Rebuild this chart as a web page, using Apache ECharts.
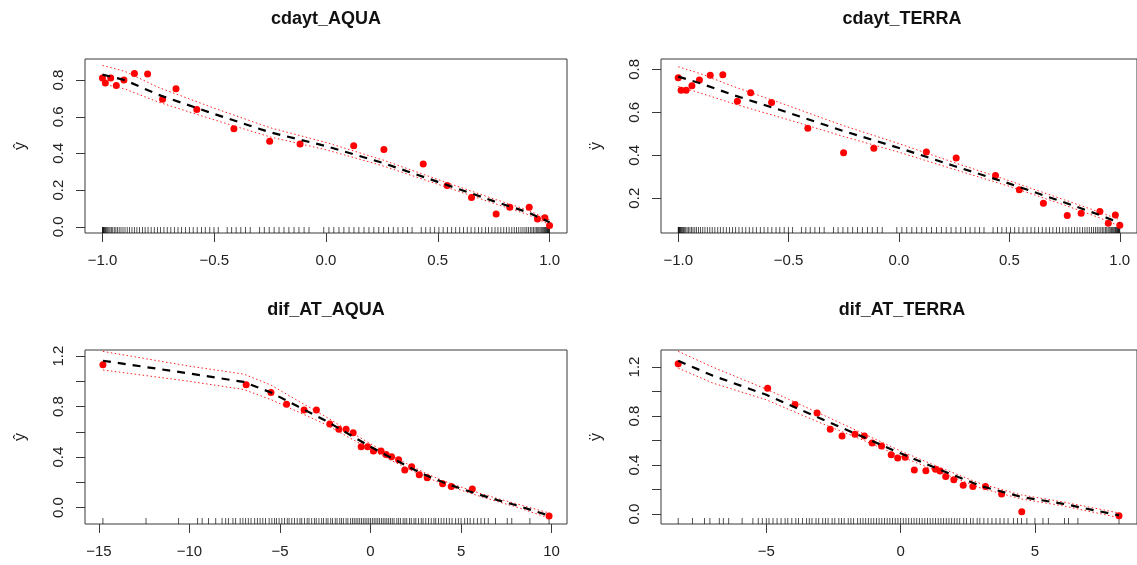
<!DOCTYPE html>
<html><head><meta charset="utf-8">
<script src="https://cdn.jsdelivr.net/npm/echarts@6/dist/echarts.min.js"></script>
<style>html,body{margin:0;padding:0;background:#fff}#c{width:1137px;height:565px}</style>
</head><body><div id="c"></div>
<script>
// ---------- DATA ----------
const panelTitles = ['cdayt_AQUA', 'cdayt_TERRA', 'dif_AT_AQUA', 'dif_AT_TERRA'];
const yAxisNames = ['ŷ', 'ÿ', 'ŷ', 'ÿ'];

// red points (partial residual means)
const ptsCdaytAqua = [[-1.0,0.811],[-0.987,0.784],[-0.963,0.811],[-0.938,0.771],[-0.904,0.80],[-0.857,0.836],[-0.798,0.833],[-0.731,0.696],[-0.671,0.753],[-0.578,0.64],[-0.412,0.535],[-0.252,0.467],[-0.116,0.451],[0.124,0.442],[0.259,0.422],[0.435,0.342],[0.542,0.225],[0.651,0.16],[0.761,0.069],[0.822,0.107],[0.909,0.107],[0.946,0.042],[0.979,0.049],[1.0,0.007]];
const ptsCdaytTerra = [[-1.0,0.761],[-0.987,0.702],[-0.964,0.703],[-0.938,0.724],[-0.904,0.75],[-0.855,0.772],[-0.798,0.775],[-0.732,0.651],[-0.672,0.691],[-0.577,0.646],[-0.413,0.526],[-0.251,0.411],[-0.114,0.432],[0.124,0.415],[0.259,0.387],[0.437,0.306],[0.545,0.239],[0.654,0.177],[0.762,0.119],[0.825,0.130],[0.910,0.138],[0.948,0.083],[0.980,0.122],[1.0,0.074]];
const ptsDifAqua = [[-14.78,1.131],[-6.87,0.972],[-5.50,0.911],[-4.64,0.819],[-3.67,0.773],[-2.99,0.773],[-2.25,0.662],[-1.75,0.620],[-1.35,0.620],[-0.96,0.593],[-0.52,0.482],[-0.16,0.482],[0.16,0.448],[0.58,0.448],[0.86,0.421],[1.16,0.403],[1.55,0.379],[1.89,0.297],[2.27,0.323],[2.69,0.260],[3.13,0.236],[3.98,0.188],[4.46,0.167],[5.62,0.148],[9.86,-0.066]];
const ptsDifTerra = [[-8.28,1.227],[-4.95,1.027],[-3.93,0.893],[-3.11,0.825],[-2.62,0.691],[-2.18,0.637],[-1.70,0.650],[-1.35,0.637],[-1.06,0.579],[-0.71,0.555],[-0.35,0.484],[-0.11,0.456],[0.17,0.464],[0.51,0.358],[0.94,0.352],[1.30,0.366],[1.47,0.350],[1.68,0.306],[1.98,0.279],[2.33,0.235],[2.69,0.224],[3.16,0.224],[3.76,0.164],[4.51,0.019],[8.13,-0.014]];

// fitted curves and confidence bands
const fitXCdayt = [-1, -0.9, -0.75, -0.5, -0.25, 0, 0.25, 0.5, 0.75, 0.9, 1];
const fitCdaytAqua   = [0.83, 0.80, 0.72, 0.615, 0.515, 0.44, 0.35, 0.245, 0.14, 0.08, 0.025];
const upperCdaytAqua = [0.88, 0.848, 0.76, 0.647, 0.54, 0.46, 0.366, 0.258, 0.152, 0.092, 0.038];
const lowerCdaytAqua = [0.78, 0.752, 0.68, 0.583, 0.49, 0.42, 0.334, 0.232, 0.128, 0.068, 0.012];
const fitCdaytTerra   = [0.766, 0.735, 0.68, 0.598, 0.512, 0.434, 0.35, 0.268, 0.18, 0.125, 0.085];
const upperCdaytTerra = [0.812, 0.78, 0.72, 0.63, 0.537, 0.454, 0.366, 0.281, 0.192, 0.138, 0.10];
const lowerCdaytTerra = [0.72, 0.69, 0.64, 0.565, 0.487, 0.414, 0.334, 0.255, 0.168, 0.112, 0.07];

const fitXDifAqua  = [-14.78, -10, -7, -5.5, -4, -2.5, -1, 0, 1, 2, 3, 4, 5, 6, 7, 8, 9.86];
const fitDifAqua   = [1.163, 1.062, 0.995, 0.911, 0.80, 0.69, 0.565, 0.482, 0.405, 0.33, 0.26, 0.20, 0.15, 0.103, 0.06, 0.02, -0.063];
const upperDifAqua = [1.237, 1.12, 1.057, 0.97, 0.845, 0.722, 0.59, 0.505, 0.425, 0.348, 0.275, 0.213, 0.162, 0.115, 0.072, 0.033, -0.043];
const lowerDifAqua = [1.09, 1.0, 0.935, 0.855, 0.758, 0.66, 0.54, 0.46, 0.385, 0.312, 0.245, 0.187, 0.138, 0.091, 0.048, 0.007, -0.083];

const fitXDifTerra  = [-8.28, -7, -5, -3, -1.5, 0, 1.5, 3, 4.5, 6, 8.13];
const fitDifTerra   = [1.251, 1.13, 0.973, 0.781, 0.639, 0.495, 0.358, 0.227, 0.139, 0.085, -0.011];
const upperDifTerra = [1.328, 1.2, 1.019, 0.82, 0.668, 0.514, 0.376, 0.245, 0.155, 0.10, 0.008];
const lowerDifTerra = [1.191, 1.07, 0.932, 0.745, 0.612, 0.47, 0.338, 0.21, 0.122, 0.068, -0.03];

// rug (observed x values)
const rugCdayt = [-1.0,-0.999,-0.997,-0.995,-0.993,-0.99,-0.987,-0.984,-0.98,-0.976,-0.971,-0.966,-0.96,-0.954,-0.947,-0.94,-0.933,-0.925,-0.917,-0.908,-0.899,-0.889,-0.879,-0.868,-0.857,-0.846,-0.834,-0.821,-0.809,-0.796,-0.782,-0.768,-0.754,-0.74,-0.725,-0.71,-0.694,-0.678,-0.662,-0.646,-0.628,-0.611,-0.594,-0.576,-0.557,-0.54,-0.52,-0.501,-0.482,-0.442,-0.422,-0.402,-0.381,-0.36,-0.339,-0.297,-0.276,-0.254,-0.232,-0.21,-0.188,-0.166,-0.143,-0.121,-0.098,-0.076,-0.01,0.013,0.035,0.058,0.08,0.103,0.125,0.147,0.17,0.192,0.214,0.236,0.258,0.28,0.301,0.322,0.344,0.365,0.385,0.426,0.446,0.466,0.486,0.505,0.524,0.543,0.562,0.58,0.598,0.615,0.632,0.649,0.666,0.682,0.697,0.713,0.727,0.742,0.756,0.769,0.782,0.795,0.807,0.819,0.831,0.842,0.852,0.862,0.872,0.881,0.89,0.898,0.906,0.914,0.921,0.928,0.935,0.941,0.947,0.952,0.957,0.962,0.966,0.97,0.974,0.978,0.981,0.984,0.987,0.99,0.992,0.994,0.996,0.998,1.0];
const rugDifAqua = [-14.78,-12.4,-10.6,-9.55,-9.3,-8.95,-8.55,-8.2,-8.0,-7.85,-7.6,-7.45,-7.2,-7.05,-6.9,-6.75,-6.6,-6.4,-6.25,-6.1,-5.95,-5.8,-5.6,-5.45,-5.3,-5.2,-5.05,-4.9,-4.75,-4.6,-4.5,-4.35,-4.2,-4.05,-3.9,-3.8,-3.65,-3.5,-3.4,-3.25,-3.1,-3.0,-2.85,-2.7,-2.6,-2.45,-2.35,-2.2,-2.1,-1.95,-1.85,-1.7,-1.6,-1.5,-1.35,-1.25,-1.1,-1.0,-0.9,-0.8,-0.7,-0.6,-0.5,-0.4,-0.3,-0.2,-0.1,0.0,0.1,0.2,0.3,0.4,0.5,0.6,0.7,0.8,0.9,1.0,1.1,1.2,1.3,1.45,1.55,1.65,1.8,1.9,2.0,2.15,2.25,2.4,2.5,2.65,2.8,2.9,3.05,3.2,3.35,3.5,3.6,3.75,3.9,4.05,4.2,4.35,4.5,4.7,4.85,5.0,5.2,5.35,5.5,5.7,5.9,6.1,6.3,6.5,6.9,7.55,7.8,8.8,9.86];
const rugDifTerra = [-8.28,-7.75,-7.3,-7.1,-6.75,-6.6,-6.4,-5.9,-5.5,-5.3,-5.15,-5.0,-4.9,-4.75,-4.6,-4.45,-4.3,-4.2,-4.05,-3.9,-3.8,-3.65,-3.5,-3.4,-3.3,-3.15,-3.05,-2.9,-2.8,-2.7,-2.55,-2.45,-2.3,-2.2,-2.1,-1.95,-1.85,-1.75,-1.6,-1.5,-1.4,-1.3,-1.2,-1.1,-1.0,-0.9,-0.8,-0.7,-0.6,-0.5,-0.4,-0.3,-0.2,-0.1,0.0,0.1,0.2,0.3,0.4,0.5,0.6,0.7,0.8,0.9,1.0,1.1,1.2,1.3,1.4,1.5,1.6,1.7,1.8,1.9,2.0,2.1,2.2,2.35,2.45,2.6,2.7,2.85,2.95,3.1,3.25,3.4,3.55,3.7,3.85,4.0,4.2,4.35,4.5,4.7,5.0,5.3,5.5,6.1,6.25,6.6,8.13];

// tick positions and labels
const xTicksCdayt = [-1, -0.5, 0, 0.5, 1];
const xTicksDifAqua = [-15, -10, -5, 0, 5, 10];
const xTicksDifTerra = [-5, 0, 5];
const yTicksCdaytAqua = [0, 0.2, 0.4, 0.6, 0.8];
const yTicksCdaytTerra = [0.2, 0.4, 0.6, 0.8];
const yTicksDif = [0, 0.2, 0.4, 0.6, 0.8, 1.0, 1.2];
const yLabelsDif = [0, 0.4, 0.8, 1.2];

// ---------- LAYOUT ----------
const panels = [
  {left: 85,  top: 59,  xr: [-1.078, 1.078], yr: [-0.034, 0.915], xt: xTicksCdayt, xd: 1, yt: yTicksCdaytAqua, yl: yTicksCdaytAqua, pts: ptsCdaytAqua, fx: fitXCdayt, fit: fitCdaytAqua, up: upperCdaytAqua, lo: lowerCdaytAqua, rug: rugCdayt},
  {left: 661, top: 59,  xr: [-1.078, 1.078], yr: [0.038, 0.848],  xt: xTicksCdayt, xd: 1, yt: yTicksCdaytTerra, yl: yTicksCdaytTerra, pts: ptsCdaytTerra, fx: fitXCdayt, fit: fitCdaytTerra, up: upperCdaytTerra, lo: lowerCdaytTerra, rug: rugCdayt},
  {left: 85,  top: 350, xr: [-15.77, 10.85],  yr: [-0.13, 1.248],  xt: xTicksDifAqua, xd: 0, yt: yTicksDif, yl: yLabelsDif, pts: ptsDifAqua, fx: fitXDifAqua, fit: fitDifAqua, up: upperDifAqua, lo: lowerDifAqua, rug: rugDifAqua},
  {left: 661, top: 350, xr: [-8.92, 8.80],    yr: [-0.082, 1.339], xt: xTicksDifTerra, xd: 0, yt: yTicksDif, yl: yLabelsDif, pts: ptsDifTerra, fx: fitXDifTerra, fit: fitDifTerra, up: upperDifTerra, lo: lowerDifTerra, rug: rugDifTerra}
];
const W = 482, H = 174;
const FONT = '"Liberation Sans", Arial, Helvetica, sans-serif';
const fmt = (v, d) => v.toFixed(d).replace('-', '\u2212');
const zip = (xs, ys) => xs.map((x, i) => [x, ys[i]]);

const grid = [], xAxis = [], yAxis = [], series = [], title = [];
panels.forEach((p, i) => {
  grid.push({left: p.left, top: p.top, width: W, height: H, show: true, borderColor: '#3a3a3a', borderWidth: 1, backgroundColor: 'transparent', containLabel: false});
  title.push({text: panelTitles[i], left: p.left + W / 2, top: p.top - 49, textAlign: 'center', padding: 0,
    textStyle: {fontFamily: FONT, fontSize: 18, fontWeight: 'bold', color: '#111'}});
  xAxis.push({type: 'value', gridIndex: i, min: p.xr[0], max: p.xr[1], splitLine: {show: false},
    position: 'bottom',
    axisLine: {show: false, onZero: false},
    axisTick: {show: true, length: 9, customValues: p.xt, lineStyle: {color: '#3a3a3a', width: 1}},
    axisLabel: {customValues: p.xt, margin: 20, fontFamily: FONT, fontSize: 15, color: '#222', formatter: v => fmt(v, p.xd)}});
  yAxis.push({type: 'value', gridIndex: i, min: p.yr[0], max: p.yr[1], splitLine: {show: false},
    position: 'left',
    axisLine: {show: false, onZero: false},
    name: yAxisNames[i], nameLocation: 'middle', nameGap: 56, nameRotate: 90,
    nameTextStyle: {fontFamily: FONT, fontSize: 16, color: '#222'},
    axisTick: {show: true, length: 9, customValues: p.yt, lineStyle: {color: '#3a3a3a', width: 1}},
    axisLabel: {customValues: p.yl, rotate: 90, margin: 19, fontFamily: FONT, fontSize: 15, color: '#222', formatter: v => fmt(v, 1)}});
  // rug
  series.push({type: 'scatter', xAxisIndex: i, yAxisIndex: i, silent: true, clip: false,
    data: p.rug.map(x => [x, p.yr[0]]), symbol: 'rect', symbolSize: [0.9, 6], symbolOffset: [0, -3],
    itemStyle: {color: '#000', opacity: 0.75}, z: 2});
  // points
  series.push({type: 'scatter', xAxisIndex: i, yAxisIndex: i, silent: true, data: p.pts,
    symbol: 'circle', symbolSize: 7, itemStyle: {color: '#ff0000', opacity: 1}, z: 3});
  // bands
  [p.up, p.lo].forEach(b => series.push({type: 'line', xAxisIndex: i, yAxisIndex: i, silent: true,
    data: zip(p.fx, b), showSymbol: false, symbol: 'none',
    lineStyle: {color: '#ff2020', width: 1, type: [1.5, 2.5]}, z: 4}));
  // fitted
  series.push({type: 'line', xAxisIndex: i, yAxisIndex: i, silent: true,
    data: zip(p.fx, p.fit), showSymbol: false, symbol: 'none',
    lineStyle: {color: '#000', width: 2.2, type: [8, 7]}, z: 5});
});

const chart = echarts.init(document.getElementById('c'), null, {renderer: 'canvas'});
chart.setOption({animation: false, backgroundColor: '#fff', title, grid, xAxis, yAxis, series});
</script></body></html>
